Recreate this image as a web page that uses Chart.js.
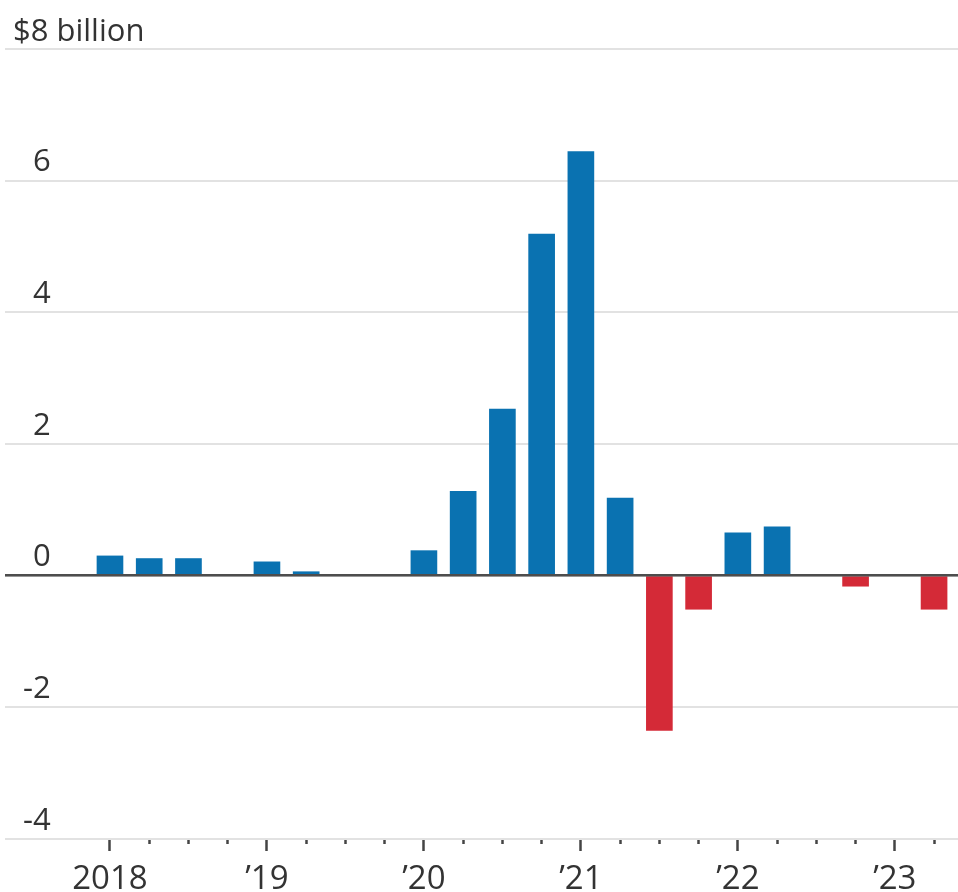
<!DOCTYPE html>
<html>
<head>
<meta charset="utf-8">
<script src="https://cdn.jsdelivr.net/npm/chart.js@4.4.0/dist/chart.umd.min.js"></script>
<style>
  html, body { margin: 0; padding: 0; background: #fff; }
  #wrap { position: relative; width: 958px; height: 892px; }
</style>
</head>
<body>
<div id="wrap"><canvas id="flows"></canvas></div>
<script>
// Quarterly net flows, 2018 Q1 – 2023 Q2, in billions of dollars.
const quarters = [
  '2018 Q1', '2018 Q2', '2018 Q3', '2018 Q4',
  '2019 Q1', '2019 Q2', '2019 Q3', '2019 Q4',
  '2020 Q1', '2020 Q2', '2020 Q3', '2020 Q4',
  '2021 Q1', '2021 Q2', '2021 Q3', '2021 Q4',
  '2022 Q1', '2022 Q2', '2022 Q3', '2022 Q4',
  '2023 Q1', '2023 Q2'
];
const netFlows = [
  0.30, 0.26, 0.26, 0,
  0.21, 0.06, 0.02, 0.02,
  0.38, 1.28, 2.53, 5.19,
  6.44, 1.18, -2.35, -0.51,
  0.65, 0.74, 0, -0.16,
  0, -0.51
];
const yearLabels = ['2018', '\u201919', '\u201920', '\u201921', '\u201922', '\u201923'];
const yTicks = [-4, -2, 0, 2, 4, 6, 8];
const topLabel = '$8 billion';

const BLUE = '#0a72b1';
const RED = '#d42a37';
const GRID = '#e2e2e2';
const ZERO = '#4d4d4d';
const INK = '#333333';
const FONT = 'Open Sans, sans-serif';

// y axes sit inside the plot (mirrored labels), so they take no width
const zeroWidth = s => { s.width = 0; };

new Chart(document.getElementById('flows'), {
  type: 'bar',
  data: {
    datasets: [{
      data: netFlows.map((v, i) => ({ x: i, y: v })),
      backgroundColor: ctx => (ctx.raw && ctx.raw.y < 0) ? RED : BLUE,
      barThickness: 26,
      borderWidth: 0
    }]
  },
  options: {
    responsive: true,
    maintainAspectRatio: false,
    animation: false,
    layout: { padding: { top: 49, left: 5, right: 0, bottom: 0 } },
    plugins: { legend: { display: false }, tooltip: { enabled: false } },
    scales: {
      x: {
        type: 'linear',
        min: -2.675,
        max: 21.61,
        offset: false,
        afterBuildTicks: s => { s.ticks = quarters.map((_, i) => ({ value: i })); },
        afterFit: s => { s.height = 53; s.paddingLeft = 0; s.paddingRight = 0; },
        grid: {
          offset: false,
          drawOnChartArea: false,
          drawTicks: true,
          tickLength: 12,
          tickWidth: 2.5,
          tickColor: '#444',
          // short marks between years: only the first 5px of the tick is inked
          tickBorderDash: ctx => (ctx.tick && ctx.tick.value % 4 === 0) ? [] : [5, 30]
        },
        border: { display: false },
        ticks: {
          autoSkip: false,
          maxRotation: 0,
          padding: 12,
          color: INK,
          font: { family: FONT, size: 33, lineHeight: 1 },
          callback: v => v % 4 === 0 ? yearLabels[v / 4] : ''
        }
      },
      y: {
        min: -4,
        max: 8,
        afterBuildTicks: s => { s.ticks = yTicks.map(v => ({ value: v })); },
        afterFit: zeroWidth,
        grid: { drawTicks: false, color: GRID, lineWidth: 2 },
        border: { display: false },
        ticks: {
          mirror: true,
          crossAlign: 'far',
          padding: 18,
          labelOffset: -18,
          color: INK,
          font: { family: FONT, size: 31 },
          callback: v => v === 8 ? '' : String(v)
        }
      },
      // carries the unit label on top and the dark zero line drawn over the bars
      yOverlay: {
        position: 'left',
        min: -4,
        max: 8,
        afterBuildTicks: s => { s.ticks = [{ value: 0 }, { value: 8 }]; },
        afterFit: zeroWidth,
        grid: {
          z: 1,
          drawTicks: false,
          color: ctx => (ctx.tick && ctx.tick.value === 0) ? ZERO : 'rgba(0,0,0,0)',
          lineWidth: 2.5
        },
        border: { display: false },
        ticks: {
          mirror: true,
          crossAlign: 'near',
          padding: 8,
          labelOffset: -17,
          color: INK,
          font: { family: FONT, size: 31 },
          callback: v => v === 8 ? topLabel : ''
        }
      }
    }
  }
});
</script>
</body>
</html>
